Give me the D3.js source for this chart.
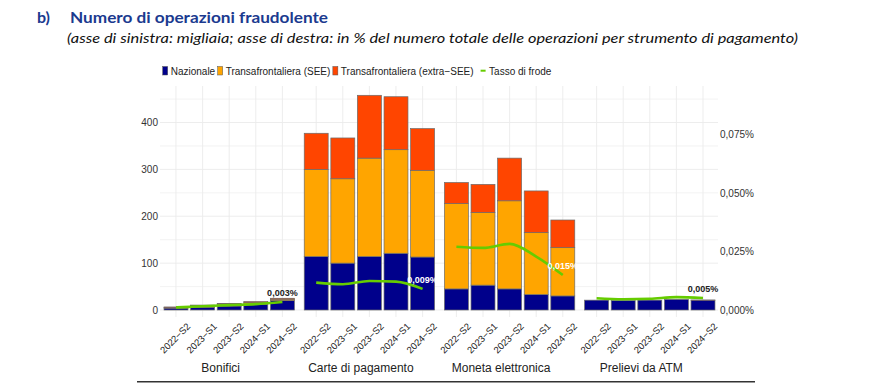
<!DOCTYPE html>
<html>
<head>
<meta charset="utf-8">
<script src="https://cdn.jsdelivr.net/npm/d3@7"></script>
<style>
  body { margin: 0; background: #fff; }
  svg { display: block; }
</style>
</head>
<body>
<div id="chart"></div>
<script>
// dati (migliaia di operazioni; tasso in %)
const groups = ["Bonifici", "Carte di pagamento", "Moneta elettronica", "Prelievi da ATM"];
const periods = ["2022\u2212S2", "2023\u2212S1", "2023\u2212S2", "2024\u2212S1", "2024\u2212S2"];

const nazionale = [
  [4, 6, 8.5, 12, 20],
  [114, 100, 114, 121, 113],
  [45, 53, 45, 33, 30],
  [21, 20, 21, 22.5, 21]
];
const transSEE = [
  [1.5, 3, 4, 4, 3],
  [186, 180, 210, 221, 185],
  [182, 155, 188, 132, 103],
  [0, 0, 0, 0, 0]
];
const transExtraSEE = [
  [1, 1.5, 1.5, 2, 2],
  [77, 87, 134, 113, 89],
  [45, 60, 91, 89, 59],
  [0, 0, 0, 0, 0.3]
];
const tassoFrode = [
  [0.0011, 0.0016, 0.0021, 0.0025, 0.0034],
  [0.0117, 0.0110, 0.0124, 0.0121, 0.0090],
  [0.0270, 0.0265, 0.0282, 0.0228, 0.0149],
  [0.0050, 0.0046, 0.0048, 0.0055, 0.0051]
];
const lastLabels = ["0,003%", "0,009%", "0,015%", "0,005%"];

const leftTicks = [0, 100, 200, 300, 400];
const rightTicks = [0, 0.025, 0.05, 0.075];

const seriesNames = ["Nazionale", "Transafrontaliera (SEE)", "Transafrontaliera (extra\u2212SEE)"];
const colors = ["#00008B", "#FFA500", "#FF4500"];
const lineColor = "#66CC00";

const W = 871, H = 387;
const svg = d3.select("#chart").append("svg")
    .attr("width", W).attr("height", H)
    .style("font-family", "'Liberation Sans', Arial, sans-serif");

svg.append("rect").attr("width", W).attr("height", H).attr("fill", "#fff");

// titolo
svg.append("text")
    .attr("x", 37).attr("y", 23)
    .attr("fill", "#1b3a8f")
    .style("font-family", "Lato, 'Open Sans', sans-serif")
    .style("font-weight", "bold").style("font-size", "16px")
    .text("b)");
svg.append("text")
    .attr("x", 70).attr("y", 23)
    .attr("fill", "#1b3a8f")
    .attr("textLength", 258).attr("lengthAdjust", "spacingAndGlyphs")
    .style("font-family", "Lato, 'Open Sans', sans-serif")
    .style("font-weight", "bold").style("font-size", "16px")
    .text("Numero di operazioni fraudolente");
svg.append("text")
    .attr("x", 67).attr("y", 43)
    .attr("fill", "#111")
    .attr("textLength", 731).attr("lengthAdjust", "spacingAndGlyphs")
    .style("font-family", "Lato, 'Open Sans', sans-serif")
    .style("font-style", "italic").style("font-size", "14px")
    .text("(asse di sinistra: migliaia; asse di destra: in % del numero totale delle operazioni per strumento di pagamento)");

// scale
const panel = { left: 160, right: 718, top: 86, bottom: 317 };

const xGroup = d3.scaleBand()
    .domain(groups)
    .range([162.7, 716.3])
    .paddingInner(0.0514)
    .paddingOuter(0);

const xInner = d3.scaleBand()
    .domain(periods)
    .range([0, xGroup.bandwidth()])
    .paddingInner(0.1)
    .paddingOuter(0.05);

const y = d3.scaleLinear().domain([0, 400]).range([310, 122.5]);
const yR = d3.scaleLinear().domain([0, 0.08]).range([y(0), y(400)]); // 0,08% <-> 400

// griglia
const g = svg.append("g");
g.selectAll("line.h")
    .data(d3.range(0, 451, 50))
    .enter().append("line")
    .attr("x1", panel.left).attr("x2", panel.right)
    .attr("y1", d => y(d)).attr("y2", d => y(d))
    .attr("stroke", "#ebebeb").attr("stroke-width", d => d % 100 === 0 ? 0.9 : 0.6);

const centers = [];
groups.forEach((grp, gi) => {
    periods.forEach(p => {
        centers.push(xGroup(grp) + xInner(p) + xInner.bandwidth() / 2);
    });
});
g.selectAll("line.v")
    .data(centers)
    .enter().append("line")
    .attr("x1", d => d).attr("x2", d => d)
    .attr("y1", panel.top).attr("y2", panel.bottom)
    .attr("stroke", "#ebebeb").attr("stroke-width", 0.9);

// assi
svg.append("g")
    .attr("transform", `translate(${panel.left - 2},0)`)
    .call(d3.axisLeft(y).tickValues(leftTicks).tickSize(0).tickPadding(0))
    .call(a => a.select(".domain").remove())
    .call(a => a.selectAll("text")
        .attr("fill", "#333").style("font-size", "10px")
        .style("font-family", "'Liberation Sans', Arial, sans-serif"));

svg.append("g")
    .attr("transform", `translate(${panel.right + 2},0)`)
    .call(d3.axisRight(yR).tickValues(rightTicks).tickSize(0).tickPadding(0)
        .tickFormat(d => d3.format(".3f")(d).replace(".", ",") + "%"))
    .call(a => a.select(".domain").remove())
    .call(a => a.selectAll("text")
        .attr("fill", "#333").style("font-size", "10px")
        .style("font-family", "'Liberation Sans', Arial, sans-serif"));

// barre impilate
const series = [nazionale, transSEE, transExtraSEE];
groups.forEach((grp, gi) => {
    const rows = periods.map((p, pi) => ({ p, v: series.map(s => s[gi][pi]) }));
    const gg = svg.append("g").attr("transform", `translate(${xGroup(grp)},0)`);
    rows.forEach(r => {
        let base = 0;
        r.v.forEach((v, si) => {
            if (v <= 0) return;
            gg.append("rect")
                .attr("x", xInner(r.p))
                .attr("width", xInner.bandwidth())
                .attr("y", y(base + v))
                .attr("height", y(base) - y(base + v))
                .attr("fill", colors[si])
                .attr("stroke", "#6b6b6b")
                .attr("stroke-width", 0.7);
            base += v;
        });
    });

    // linea tasso di frode
    const line = d3.line()
        .x((d, i) => xInner(periods[i]) + xInner.bandwidth() / 2)
        .y(d => yR(d))
        .curve(d3.curveMonotoneX);
    gg.append("path")
        .datum(tassoFrode[gi])
        .attr("fill", "none")
        .attr("stroke", lineColor)
        .attr("stroke-width", 2.6)
        .attr("d", line);

    // etichetta ultimo valore
    const last = periods.length - 1;
    const lx = xInner(periods[last]) + xInner.bandwidth() / 2;
    const ly = yR(tassoFrode[gi][last]) - 6;
    const total = series.reduce((s, a) => s + a[gi][last], 0);
    gg.append("text")
        .attr("x", lx).attr("y", ly)
        .attr("text-anchor", "middle")
        .attr("fill", y(total) < ly - 12 ? "#fff" : "#222")
        .style("font-size", "9px").style("font-weight", "bold")
        .text(lastLabels[gi]);

    // etichette periodi
    periods.forEach(p => {
        const cx = xInner(p) + xInner.bandwidth() / 2;
        gg.append("text")
            .attr("transform", `translate(${cx + 15},327) rotate(-45)`)
            .attr("text-anchor", "end")
            .attr("fill", "#222")
            .style("font-size", "9.5px")
            .text(p);
    });

    // etichetta gruppo
    gg.append("text")
        .attr("x", xGroup.bandwidth() / 2 - 8.5)
        .attr("y", 372)
        .attr("text-anchor", "middle")
        .attr("fill", "#222")
        .style("font-size", "12px")
        .text(grp);
});

// legenda
const leg = svg.append("g").attr("transform", "translate(162.7,0)");
let lx = 0;
seriesNames.forEach((name, i) => {
    leg.append("rect")
        .attr("x", lx).attr("y", 66.5)
        .attr("width", 5).attr("height", 8.5)
        .attr("fill", colors[i]).attr("stroke", "#555").attr("stroke-width", 0.5);
    const t = leg.append("text")
        .attr("x", lx + 8).attr("y", 74.5)
        .attr("fill", "#222").style("font-size", "10px")
        .text(name);
    lx += 8 + t.node().getComputedTextLength() + 2.5;
});
lx += 4.5;
leg.append("line")
    .attr("x1", lx).attr("x2", lx + 5)
    .attr("y1", 70.7).attr("y2", 70.7)
    .attr("stroke", lineColor).attr("stroke-width", 2);
leg.append("text")
    .attr("x", lx + 8.5).attr("y", 74.5)
    .attr("fill", "#222").style("font-size", "10px")
    .text("Tasso di frode");

// linea di chiusura
svg.append("line")
    .attr("x1", 137).attr("x2", 755)
    .attr("y1", 381.7).attr("y2", 381.7)
    .attr("stroke", "#333").attr("stroke-width", 1.6);
</script>
</body>
</html>
